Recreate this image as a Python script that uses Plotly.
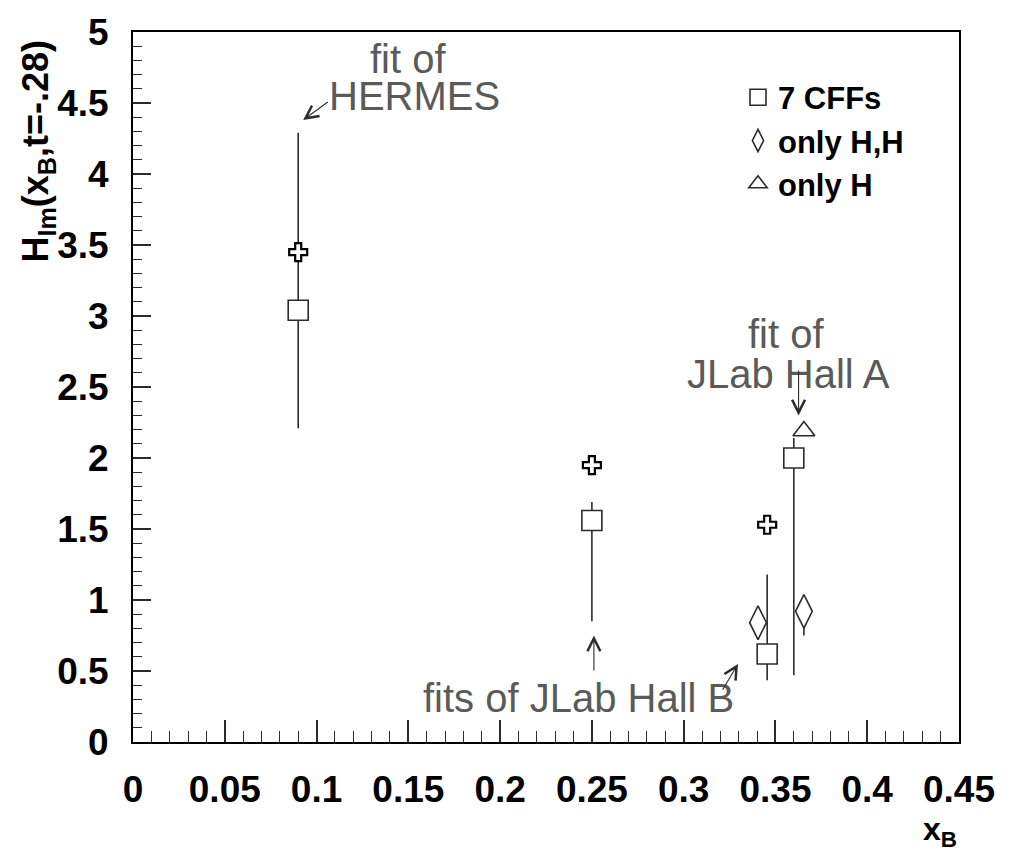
import plotly.graph_objects as go

# ---- data -------------------------------------------------------------
# fits with all 7 Compton form factors
x_7cff = [0.09, 0.25, 0.3455, 0.36]
y_7cff = [3.04, 1.56, 0.62, 2.00]
e_7cff_plus = [1.25, 0.13, 0.56, 0.14]
e_7cff_minus = [0.83, 0.71, 0.185, 1.53]

# fits with only H and H-tilde
x_hh = [0.3405, 0.3655]
y_hh = [0.84, 0.92]
e_hh_plus = [0.0, 0.0]
e_hh_minus = [0.0, 0.17]

# fit with only H
x_h = [0.3655]
y_h = [2.19]

# model values (cross markers)
x_cross = [0.09, 0.25, 0.3455]
y_cross = [3.45, 1.95, 1.53]

legend_names = ["7 CFFs", "only H,H", "only H"]

x_ticks = [0, 0.05, 0.1, 0.15, 0.2, 0.25, 0.3, 0.35, 0.4, 0.45]
x_tick_text = ["0", "0.05", "0.1", "0.15", "0.2", "0.25", "0.3", "0.35", "0.4", "0.45"]
y_ticks = [0, 0.5, 1, 1.5, 2, 2.5, 3, 3.5, 4, 4.5, 5]
y_tick_text = ["0", "0.5", "1", "1.5", "2", "2.5", "3", "3.5", "4", "4.5", "5"]

# ---- styling -----------------------------------------------------------
INK = "#2b2b2b"
NOTE = "#5a5a5a"
NOTE_FONT = dict(family="Liberation Sans, Arial, sans-serif", size=40, color=NOTE)
BOLD = "Liberation Sans, Arial, sans-serif"

fig = go.Figure()

fig.add_trace(go.Scatter(
    x=x_7cff, y=y_7cff, mode="markers", name=legend_names[0],
    marker=dict(symbol="square", size=20, color="white",
                line=dict(color=INK, width=1.6)),
    error_y=dict(type="data", symmetric=False, array=e_7cff_plus,
                 arrayminus=e_7cff_minus, width=0, thickness=1.6, color=INK),
))
fig.add_trace(go.Scatter(
    x=x_hh, y=y_hh, mode="markers", name=legend_names[1],
    marker=dict(symbol="diamond-tall", size=24, color="white",
                line=dict(color=INK, width=1.6)),
    error_y=dict(type="data", symmetric=False, array=e_hh_plus,
                 arrayminus=e_hh_minus, width=0, thickness=1.6, color=INK),
))
fig.add_trace(go.Scatter(
    x=x_h, y=y_h, mode="markers", name=legend_names[2],
    marker=dict(symbol="triangle-up", size=19, color="white",
                line=dict(color=INK, width=1.6)),
))
fig.add_trace(go.Scatter(
    x=x_cross, y=y_cross, mode="markers", name="model", showlegend=False,
    marker=dict(symbol="cross", size=15, color="white",
                line=dict(color="black", width=2.2)),
))

# ---- annotations -------------------------------------------------------
notes = [
    ("fit of", 0.150, 4.81),
    ("HERMES", 0.1533, 4.55),
    ("fit of", 0.3556, 2.87),
    ("JLab Hall A", 0.3573, 2.59),
    ("fits of JLab Hall B", 0.2429, 0.31),
]
annotations = [
    dict(text=t, x=x, y=y, xref="x", yref="y", showarrow=False,
         xanchor="center", yanchor="middle", font=NOTE_FONT)
    for t, x, y in notes
]

# arrows: (head x, head y, tail x, tail y)
arrows = [
    (0.0927, 4.38, 0.1064, 4.51),
    (0.3626, 2.30, 0.3626, 2.62),
    (0.2511, 0.75, 0.2511, 0.50),
    (0.3296, 0.55, 0.3211, 0.365),
]
for hx, hy, tx, ty in arrows:
    annotations.append(dict(
        text="", x=hx, y=hy, ax=tx, ay=ty, xref="x", yref="y",
        axref="x", ayref="y", showarrow=True, arrowhead=5,
        arrowsize=2.3, arrowwidth=1.1, arrowcolor=INK, standoff=0,
        startstandoff=0, font=dict(size=1), borderpad=0,
    ))

L, R, T, B = 133, 959, 24, 742.5
W, H = 1013, 856


def px(xp):
    return (xp - L) / (R - L)


def py(yp):
    return (B - yp) / (B - T)


annotations.append(dict(
    text="<b>H<sub>Im</sub>(x<sub>B</sub>,t=-.28)</b>", textangle=-90,
    x=px(38), y=py(145), xref="paper", yref="paper", showarrow=False,
    xanchor="center", yanchor="middle",
    font=dict(family=BOLD, size=36, color="black"),
))
annotations.append(dict(
    text="<b>x<sub>B</sub></b>",
    x=px(959), y=py(810), xref="paper", yref="paper", showarrow=False,
    xanchor="right", yanchor="top",
    font=dict(family=BOLD, size=32, color="black"),
))

fig.update_layout(
    width=W, height=H,
    margin=dict(l=L, r=W - R, t=T, b=H - B),
    paper_bgcolor="white", plot_bgcolor="white",
    showlegend=True,
    legend=dict(x=px(738), y=py(63), xanchor="left", yanchor="top",
                bgcolor="rgba(0,0,0,0)", borderwidth=0,
                font=dict(family=BOLD, size=31, color="black", weight="bold"),
                itemsizing="trace", tracegroupgap=0),
    annotations=annotations,
)

fig.update_xaxes(
    range=[0, 0.45], tickvals=x_ticks, ticktext=x_tick_text,
    ticks="inside", ticklen=22, tickwidth=1.5, tickcolor=INK,
    minor=dict(dtick=0.01, ticks="inside", ticklen=11, tickwidth=1.3,
               tickcolor=INK),
    showline=True, linecolor="black", linewidth=2, mirror=True,
    showgrid=False, zeroline=False,
    tickfont=dict(family=BOLD, size=37, color="black", weight="bold"),
    ticklabelstandoff=14,
)
fig.update_yaxes(
    range=[0, 5], tickvals=y_ticks, ticktext=y_tick_text,
    ticks="inside", ticklen=18, tickwidth=1.5, tickcolor=INK,
    minor=dict(dtick=0.1, ticks="inside", ticklen=9, tickwidth=1.3,
               tickcolor=INK),
    showline=True, linecolor="black", linewidth=2, mirror=True,
    showgrid=False, zeroline=False,
    tickfont=dict(family=BOLD, size=37, color="black", weight="bold"),
    ticklabelstandoff=15,
)

fig.write_html("out.html")
